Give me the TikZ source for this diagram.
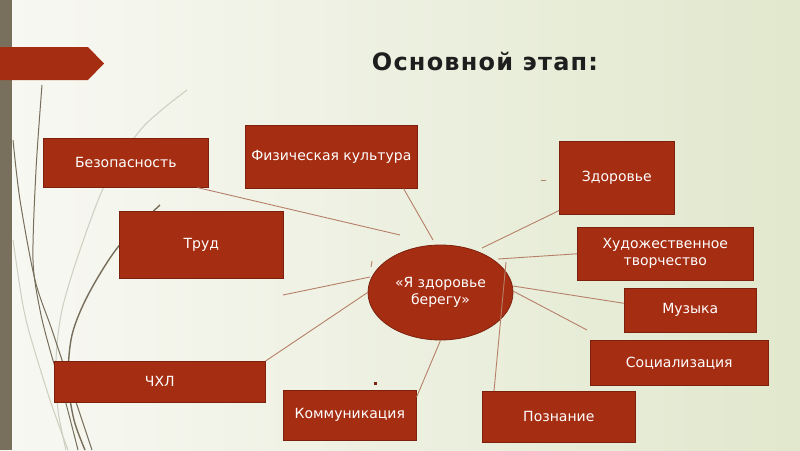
\documentclass[tikz,border=0pt]{standalone}
\usepackage{fontspec}
\setmainfont{DejaVu Sans}
\usetikzlibrary{shapes.geometric,calc}
\definecolor{bg1}{RGB}{248,248,243}
\definecolor{bg2}{RGB}{225,232,205}
\definecolor{barcol}{RGB}{120,112,92}
\definecolor{boxred}{RGB}{165,45,18}
\definecolor{boxedge}{RGB}{125,33,14}
\definecolor{conncol}{RGB}{182,128,104}
\definecolor{wispdark}{RGB}{118,110,90}
\definecolor{wisplight}{RGB}{205,206,192}
\definecolor{titlecol}{RGB}{30,30,30}
\begin{document}
\begin{tikzpicture}[x=1pt,y=-1pt,
  box/.style={rectangle, fill=boxred, draw=boxedge, line width=0.6pt,
    text=white, font=\fontsize{14}{17}\selectfont, align=center,
    inner sep=0pt, anchor=north west},
  conn/.style={draw=conncol, line width=0.9pt},
  wd/.style={draw=wispdark, line width=1pt},
  wl/.style={draw=wisplight, line width=1pt}]
\useasboundingbox (0,0) rectangle (800,450);
\shade[left color=bg1, right color=bg2] (0,0) rectangle (800,450);
% left decoration
\fill[barcol] (0,0) rectangle (12,450);
\draw[wl] plot[smooth] coordinates {(187,90) (143,127) (107,180) (80,250) (62,310) (56,360) (58,410) (66,450)};
\draw[wl] plot[smooth] coordinates {(13,240) (22,300) (30,335) (50,400) (68,450)};
\draw[wd] plot[smooth] coordinates {(42,85) (36,170) (33,260) (40,310) (50,350) (65,400) (78,450)};
\draw[wd] plot[smooth] coordinates {(13,140) (20,200) (35,280) (52,330) (72,390) (92,450)};
\draw[wd, line width=1.4pt] plot[smooth] coordinates {(160,205) (118,247) (88,295) (72,335) (68,380) (74,420) (85,450)};
% banner
\fill[boxred] (0,47) -- (88,47) -- (104,63.5) -- (88,80) -- (0,80) -- cycle;
% title
\node[font=\bfseries\fontsize{24}{28}\selectfont\addfontfeatures{LetterSpace=5}, text=titlecol] (title) at (485,61) {Основной этап:};
% boxes
\node[box, minimum width=165, minimum height=49] (bez) at (43,138) {Безопасность};
\node[box, minimum width=172, minimum height=63] (fiz) at (245,125) {Физическая культура};
\node[box, minimum width=115, minimum height=73] (zdr) at (559,141) {Здоровье};
\node[box, minimum width=164, minimum height=67] (trud) at (119,211) {Труд};
\node[box, minimum width=176, minimum height=53] (hud) at (577,227) {Художественное\\творчество};
\node[box, minimum width=132, minimum height=44] (muz) at (624,288) {Музыка};
\node[box, minimum width=178, minimum height=45] (soc) at (590,340) {Социализация};
\node[box, minimum width=153, minimum height=51] (poz) at (482,391) {Познание};
\node[box, minimum width=133, minimum height=50] (kom) at (283,390) {Коммуникация};
\node[box, minimum width=211, minimum height=41] (chl) at (54,361) {ЧХЛ};
% centre
\node[ellipse, fill=boxred, draw=boxedge, line width=0.8pt, minimum width=145, minimum height=95,
  inner sep=0pt, text=white, align=center, font=\fontsize{14}{17}\selectfont] (core) at (440.5,292.5) {«Я здоровье\\берегу»};
% free ends
\coordinate (bezE) at (400,235);
\coordinate (fizE) at (433,240);
\coordinate (zdrE) at (482,248);
\coordinate (hudE) at (498,259);
\coordinate (muzE) at (513,286);
\coordinate (socA) at (513,291);
\coordinate (socB) at (587,330);
\coordinate (pozE) at (506,262);
\coordinate (trudA) at (283,295);
\coordinate (trudB) at (370,277);
% connectors
\draw[conn] ($(bez.south east)+(-11,0)$) -- (bezE);
\draw[conn] ($(fiz.south east)+(-14,0)$) -- (fizE);
\draw[conn] ($(zdr.south west)+(0,-4)$) -- (zdrE);
\draw[conn] (hud.west) -- (hudE);
\draw[conn] ($(muz.west)+(0,-7)$) -- (muzE);
\draw[conn] (socA) -- (socB);
\draw[conn] ($(poz.north west)+(12,0)$) -- (pozE);
\draw[conn] ($(kom.north east)+(0,7)$) -- (core.south);
\draw[conn] (chl.north east) -- (core.west);
\draw[conn] (trudA) -- (trudB);
% small marks
\coordinate (m1a) at (541,180); \coordinate (m1b) at (546,180);
\draw[conn] (m1a) -- (m1b);
\coordinate (m2a) at (372,261); \coordinate (m2b) at (371,267);
\draw[conn] (m2a) -- (m2b);
\fill[boxedge] (373.5,381.5) rectangle (376.5,384.5);
\end{tikzpicture}
\end{document}
